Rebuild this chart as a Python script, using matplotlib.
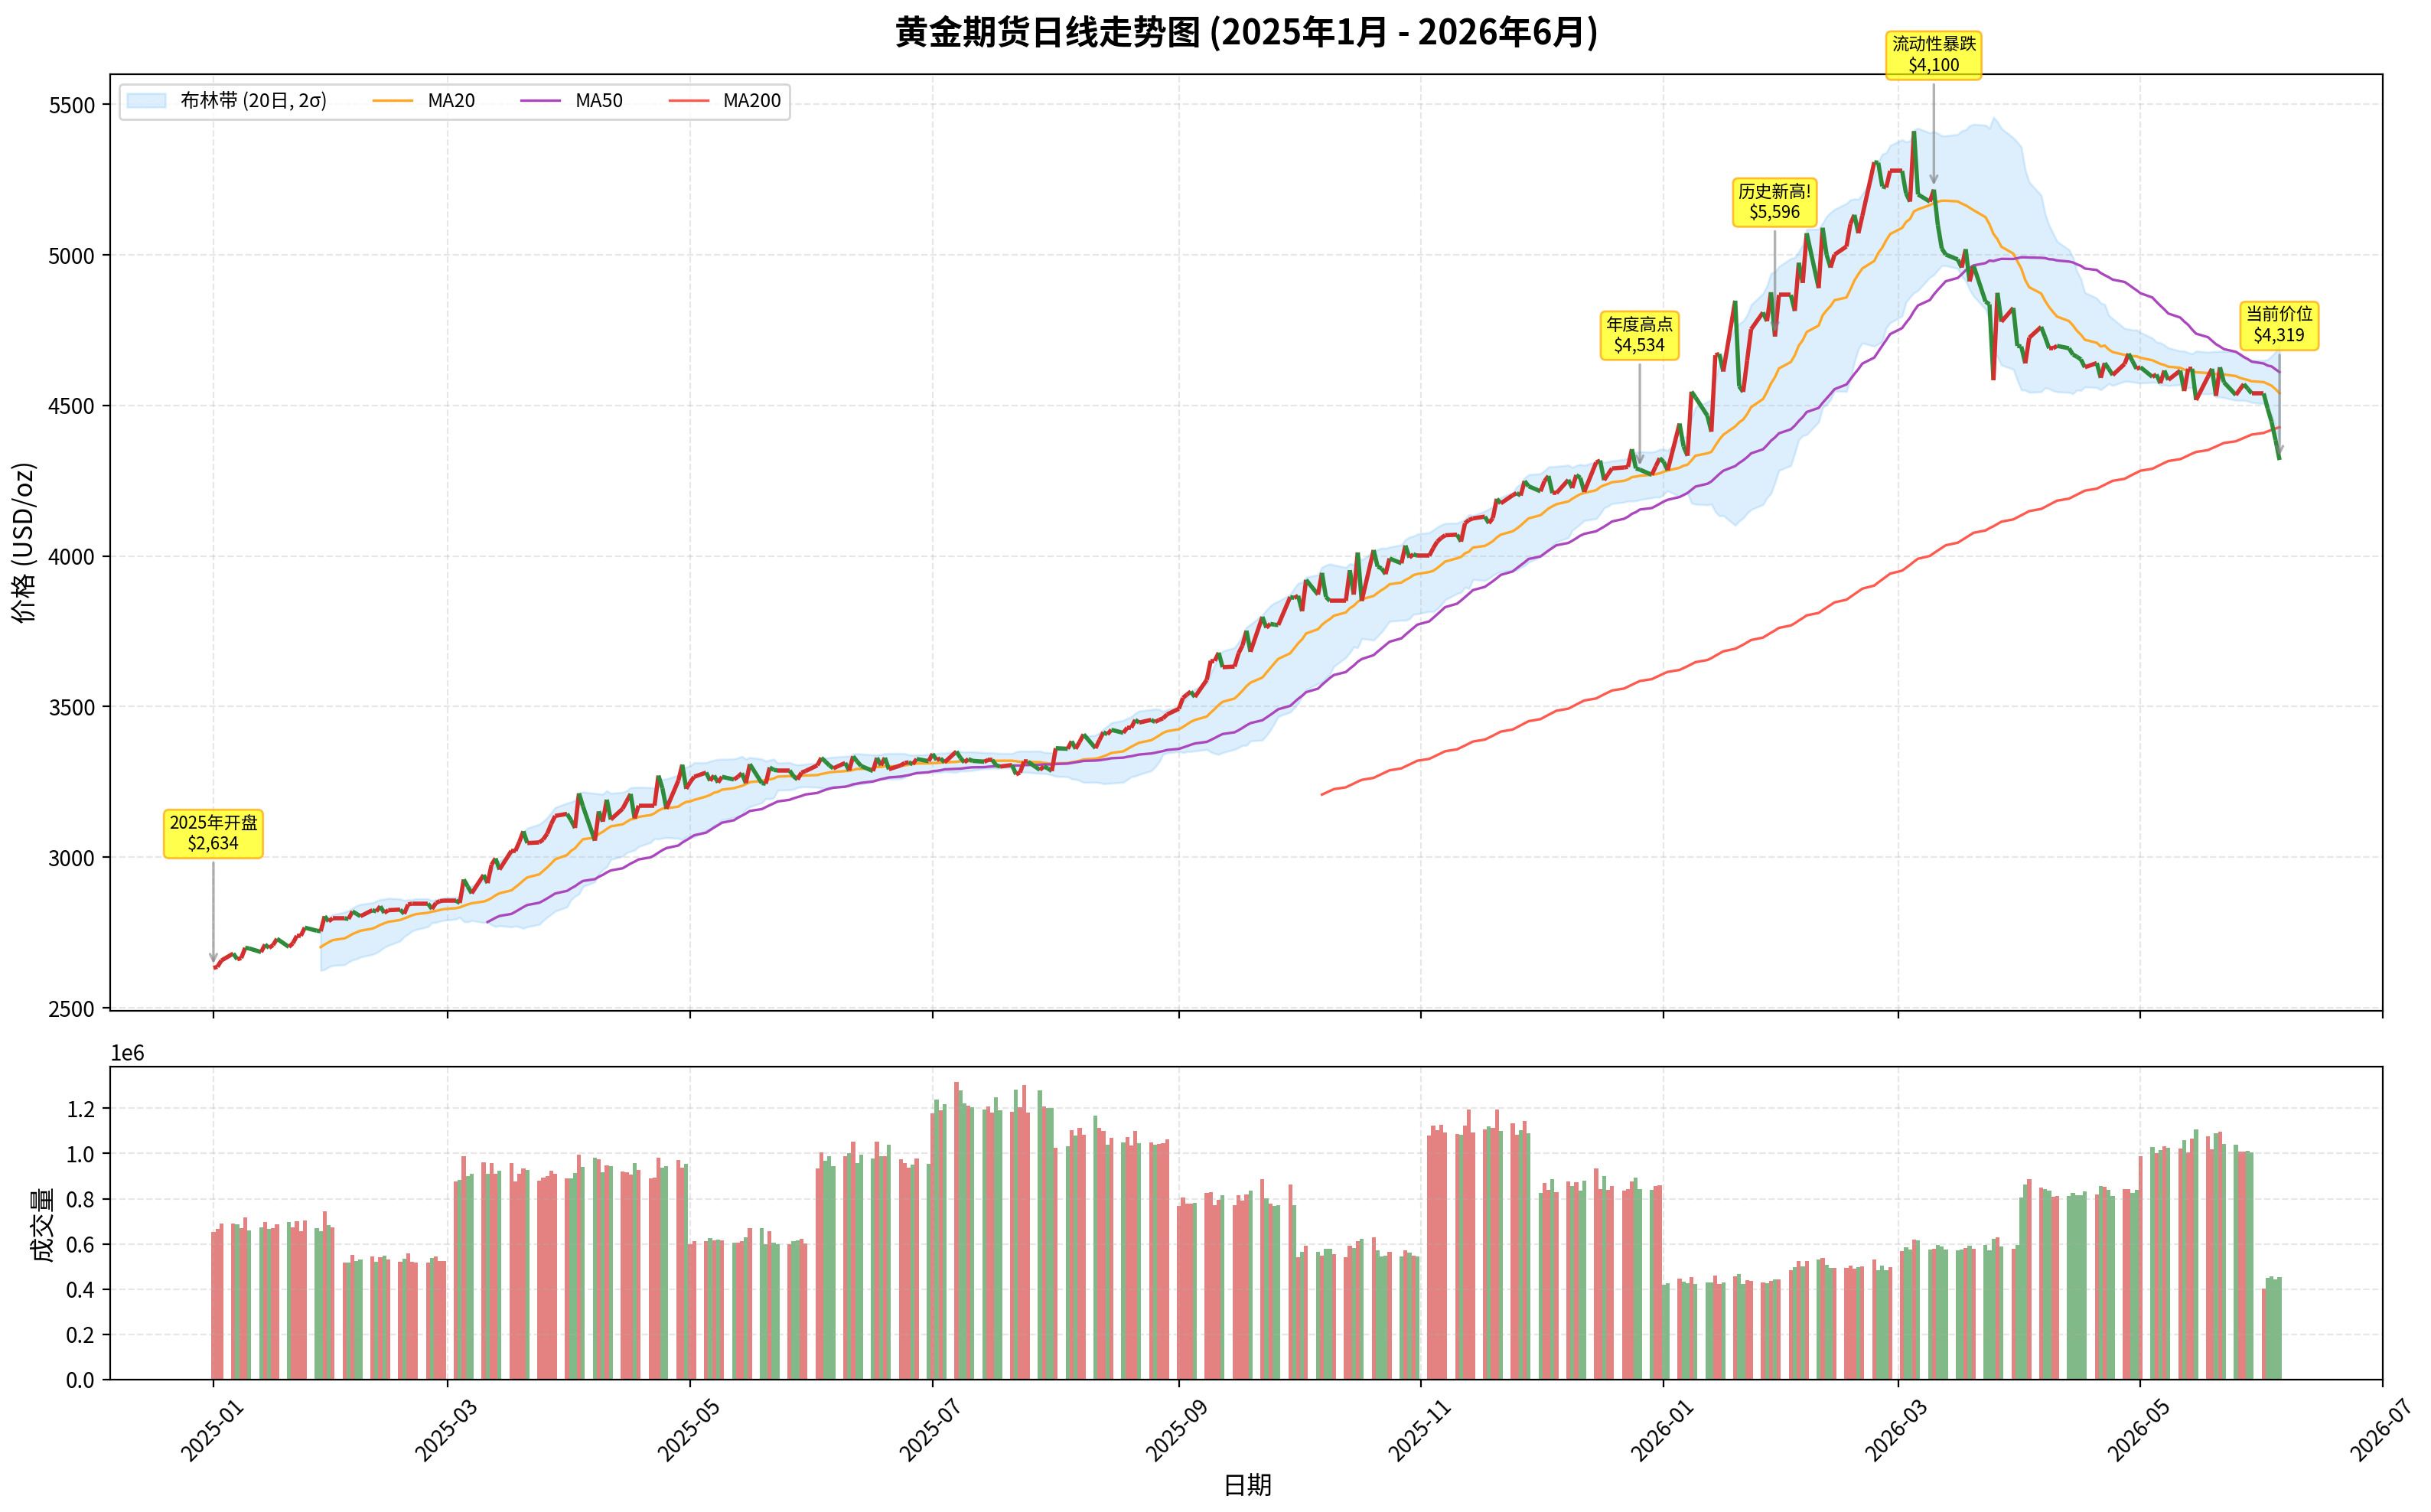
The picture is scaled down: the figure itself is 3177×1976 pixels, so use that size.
import numpy as np
import pandas as pd
import matplotlib
matplotlib.use("Agg")
import matplotlib.pyplot as plt
import matplotlib.dates as mdates
from matplotlib.collections import LineCollection

plt.rcParams['font.family'] = ['Noto Sans CJK SC', 'DejaVu Sans']
plt.rcParams['axes.unicode_minus'] = False

# daily closes (USD/oz), one list per month, business days only
close_2025_01 = [2632, 2636, 2657, 2680, 2661, 2665, 2699, 2697, 2685, 2710, 2699, 2708, 2729,
                 2702, 2714, 2739, 2739, 2766, 2756, 2754, 2804, 2787, 2797]
close_2025_02 = [2797, 2795, 2820, 2812, 2804, 2824, 2820, 2837, 2815, 2824,
                 2826, 2812, 2843, 2846, 2846, 2846, 2828, 2848, 2854, 2856]
close_2025_03 = [2856, 2848, 2926, 2903, 2880, 2941, 2914, 2975, 2996, 2959, 3021,
                 3021, 3051, 3086, 3047, 3049, 3059, 3078, 3110, 3137, 3144]
close_2025_04 = [3123, 3097, 3212, 3169, 3055, 3152, 3118, 3191, 3125, 3161, 3186,
                 3210, 3129, 3171, 3171, 3171, 3271, 3229, 3161, 3254, 3307, 3227]
close_2025_05 = [3250, 3267, 3281, 3254, 3271, 3248, 3267, 3258, 3267, 3279, 3246,
                 3309, 3246, 3244, 3298, 3290, 3288, 3288, 3269, 3258, 3281, 3286]
close_2025_06 = [3305, 3330, 3318, 3305, 3295, 3313, 3288, 3335, 3318, 3303, 3286,
                 3330, 3305, 3330, 3292, 3305, 3313, 3315, 3309, 3326, 3319]
close_2025_07 = [3343, 3323, 3328, 3315, 3351, 3330, 3315, 3326, 3320, 3317, 3323, 3323,
                 3305, 3301, 3306, 3275, 3281, 3317, 3317, 3290, 3301, 3295, 3286]
close_2025_08 = [3362, 3360, 3385, 3360, 3383, 3408, 3362, 3389, 3415, 3408, 3423,
                 3413, 3430, 3430, 3456, 3447, 3456, 3449, 3456, 3461, 3474]
close_2025_09 = [3493, 3529, 3540, 3550, 3532, 3589, 3652, 3652, 3679, 3631, 3633,
                 3677, 3703, 3752, 3682, 3798, 3762, 3775, 3772, 3771, 3864, 3861]
close_2025_10 = [3868, 3817, 3921, 3872, 3944, 3864, 3851, 3851, 3851, 3953, 3872, 4012,
                 3851, 4020, 3965, 3959, 3940, 3992, 3976, 4035, 3995, 4006, 4001]
close_2025_11 = [4001, 4026, 4048, 4060, 4069, 4071, 4048, 4109, 4120, 4125,
                 4131, 4109, 4126, 4190, 4175, 4202, 4209, 4201, 4249, 4232]
close_2025_12 = [4215, 4249, 4266, 4209, 4209, 4253, 4226, 4269, 4260, 4213, 4311, 4317,
                 4252, 4272, 4291, 4294, 4296, 4355, 4291, 4287, 4270, 4298, 4325]
close_2026_01 = [4313, 4285, 4440, 4364, 4333, 4546, 4527, 4466, 4413, 4667, 4671,
                 4613, 4848, 4564, 4545, 4649, 4753, 4809, 4780, 4876, 4729, 4867]
close_2026_02 = [4867, 4814, 4974, 4907, 5072, 4890, 5090, 5001, 4958, 5001,
                 5028, 5103, 5133, 5072, 5130, 5308, 5306, 5228, 5224, 5279]
close_2026_03 = [5279, 5204, 5177, 5411, 5201, 5177, 5217, 5099, 5021, 5001, 4985,
                 4958, 5019, 4912, 4964, 4845, 4836, 4584, 4874, 4778, 4824, 4698]
close_2026_04 = [4696, 4640, 4725, 4761, 4727, 4690, 4690, 4698, 4690, 4669, 4662,
                 4653, 4627, 4641, 4592, 4641, 4622, 4601, 4638, 4672, 4647, 4622]
close_2026_05 = [4627, 4595, 4603, 4574, 4616, 4585, 4616, 4548, 4622, 4622, 4518,
                 4596, 4622, 4532, 4627, 4577, 4535, 4553, 4571, 4556, 4540]
close_2026_06 = [4540, 4490, 4445, 4385, 4319]

# daily volume (millions of contracts), same days
vol_2025_01 = [0.652, 0.666, 0.690, 0.690, 0.686, 0.669, 0.716, 0.660, 0.672, 0.696, 0.667, 0.670,
               0.686, 0.696, 0.672, 0.700, 0.656, 0.703, 0.669, 0.656, 0.743, 0.684, 0.672]
vol_2025_02 = [0.517, 0.517, 0.550, 0.524, 0.531, 0.543, 0.521, 0.541, 0.547, 0.530,
               0.520, 0.534, 0.557, 0.521, 0.517, 0.517, 0.538, 0.543, 0.524, 0.524]
vol_2025_03 = [0.877, 0.884, 0.988, 0.900, 0.911, 0.960, 0.911, 0.957, 0.911, 0.924, 0.957,
               0.877, 0.911, 0.933, 0.928, 0.880, 0.893, 0.900, 0.924, 0.911, 0.890]
vol_2025_04 = [0.890, 0.914, 0.994, 0.941, 0.981, 0.974, 0.918, 0.948, 0.945, 0.921, 0.918,
               0.907, 0.957, 0.928, 0.890, 0.894, 0.981, 0.937, 0.945, 0.971, 0.937, 0.954]
vol_2025_05 = [0.600, 0.611, 0.611, 0.626, 0.616, 0.618, 0.615, 0.606, 0.606, 0.611, 0.629,
               0.670, 0.670, 0.600, 0.656, 0.606, 0.600, 0.600, 0.611, 0.616, 0.621, 0.601]
vol_2025_06 = [0.934, 1.006, 0.968, 0.988, 0.945, 0.989, 1.002, 1.053, 0.958, 0.995, 0.978,
               1.053, 0.989, 0.989, 1.040, 0.975, 0.958, 0.938, 0.951, 0.978, 0.955]
vol_2025_07 = [1.179, 1.240, 1.192, 1.219, 1.318, 1.280, 1.223, 1.212, 1.206, 1.195, 1.209, 1.182,
               1.250, 1.192, 1.185, 1.284, 1.206, 1.304, 1.182, 1.280, 1.209, 1.202, 1.202]
vol_2025_08 = [1.026, 1.033, 1.104, 1.080, 1.114, 1.083, 1.168, 1.114, 1.100, 1.040, 1.070,
               1.050, 1.073, 1.036, 1.100, 1.046, 1.050, 1.040, 1.043, 1.046, 1.063]
vol_2025_09 = [0.768, 0.806, 0.779, 0.779, 0.782, 0.826, 0.829, 0.772, 0.795, 0.816, 0.772,
               0.816, 0.792, 0.819, 0.836, 0.887, 0.802, 0.779, 0.768, 0.772, 0.863, 0.772]
vol_2025_10 = [0.541, 0.565, 0.592, 0.565, 0.548, 0.578, 0.578, 0.555, 0.541, 0.592, 0.582, 0.612,
               0.623, 0.629, 0.572, 0.545, 0.548, 0.565, 0.545, 0.572, 0.562, 0.548, 0.545]
vol_2025_11 = [1.080, 1.124, 1.104, 1.128, 1.094, 1.087, 1.084, 1.124, 1.195, 1.094,
               1.107, 1.121, 1.114, 1.195, 1.100, 1.134, 1.084, 1.104, 1.145, 1.090]
vol_2025_12 = [0.826, 0.870, 0.840, 0.887, 0.829, 0.877, 0.857, 0.873, 0.836, 0.880, 0.934, 0.843,
               0.900, 0.840, 0.857, 0.836, 0.843, 0.877, 0.894, 0.843, 0.840, 0.857, 0.860]
vol_2026_01 = [0.419, 0.426, 0.446, 0.433, 0.426, 0.453, 0.423, 0.429, 0.429, 0.460, 0.423,
               0.429, 0.456, 0.467, 0.423, 0.440, 0.436, 0.429, 0.426, 0.436, 0.443, 0.443]
vol_2026_02 = [0.484, 0.497, 0.524, 0.500, 0.524, 0.531, 0.538, 0.507, 0.494, 0.494,
               0.494, 0.504, 0.490, 0.497, 0.500, 0.531, 0.484, 0.504, 0.484, 0.497]
vol_2026_03 = [0.568, 0.585, 0.576, 0.619, 0.616, 0.575, 0.578, 0.595, 0.589, 0.575, 0.572,
               0.575, 0.582, 0.592, 0.578, 0.595, 0.572, 0.623, 0.629, 0.589, 0.578, 0.595]
vol_2026_04 = [0.806, 0.863, 0.887, 0.850, 0.843, 0.836, 0.809, 0.812, 0.812, 0.826, 0.816,
               0.816, 0.833, 0.819, 0.857, 0.853, 0.840, 0.812, 0.843, 0.843, 0.826, 0.840]
vol_2026_05 = [0.989, 1.029, 1.000, 1.016, 1.033, 1.026, 1.023, 1.060, 1.006, 1.067, 1.107,
               1.077, 1.019, 1.090, 1.097, 1.043, 1.040, 1.009, 1.009, 1.013, 1.006]
vol_2026_06 = [0.402, 0.450, 0.456, 0.443, 0.453]

close = (close_2025_01 + close_2025_02 + close_2025_03 + close_2025_04 + close_2025_05 +
         close_2025_06 + close_2025_07 + close_2025_08 + close_2025_09 + close_2025_10 +
         close_2025_11 + close_2025_12 + close_2026_01 + close_2026_02 + close_2026_03 +
         close_2026_04 + close_2026_05 + close_2026_06)
volume = (vol_2025_01 + vol_2025_02 + vol_2025_03 + vol_2025_04 + vol_2025_05 +
          vol_2025_06 + vol_2025_07 + vol_2025_08 + vol_2025_09 + vol_2025_10 +
          vol_2025_11 + vol_2025_12 + vol_2026_01 + vol_2026_02 + vol_2026_03 +
          vol_2026_04 + vol_2026_05 + vol_2026_06)

# annotated points
note_dates = ['2025-01-01', '2025-12-26', '2026-01-29', '2026-03-10', '2026-06-05']
note_texts = ['2025年开盘\n$2,634', '年度高点\n$4,534', '历史新高!\n$5,596',
              '流动性暴跌\n$4,100', '当前价位\n$4,319']

dates = pd.bdate_range('2025-01-01', periods=len(close))
price = pd.Series(close, index=dates, dtype=float)
vol = pd.Series(volume, index=dates) * 1e6

ma20 = price.rolling(20).mean()
ma50 = price.rolling(50).mean()
ma200 = price.rolling(200).mean()
std20 = price.rolling(20).std()
bb_up = ma20 + 2 * std20
bb_lo = ma20 - 2 * std20

up = price.diff().fillna(0) >= 0
red, green = '#D32F2F', '#2E8B3A'

fig = plt.figure(figsize=(3177 / 200, 1976 / 200), dpi=200)
ax1 = fig.add_axes([0.0453, 0.3315, 0.9349, 0.6194])
ax2 = fig.add_axes([0.0453, 0.0876, 0.9349, 0.2069], sharex=ax1)

# price panel
ax1.fill_between(dates, bb_lo, bb_up, color='#2196F3', alpha=0.15, label='布林带 (20日, 2σ)')
ax1.plot(dates, ma20, color='#FFA726', lw=1.2, label='MA20')
ax1.plot(dates, ma50, color='#AB47BC', lw=1.2, label='MA50')
ax1.plot(dates, ma200, color='#FF5A4F', lw=1.2, label='MA200')

x = mdates.date2num(dates)
pts = np.column_stack([x, price.values])
segs = np.stack([pts[:-1], pts[1:]], axis=1)
seg_colors = [red if u else green for u in up.values[1:]]
ax1.add_collection(LineCollection(segs, colors=seg_colors, linewidths=2.0, zorder=5))

for d, t in zip(note_dates, note_texts):
    d = pd.Timestamp(d)
    p = price[d]
    ax1.annotate(t, xy=(d, p), xytext=(d, p + 445), ha='center', va='center', fontsize=8,
                 bbox=dict(boxstyle='round,pad=0.3', fc='yellow', ec='orange', alpha=0.7),
                 arrowprops=dict(arrowstyle='->', color='gray', alpha=0.6, lw=1.2), zorder=6)

ax1.set_ylim(2490, 5600)
ax1.set_ylabel('价格 (USD/oz)', fontsize=12)
ax1.set_title('黄金期货日线走势图 (2025年1月 - 2026年6月)', fontsize=16, fontweight='bold', pad=14)
ax1.grid(True, linestyle='--', alpha=0.3)
ax1.legend(loc='upper left', ncol=4, fontsize=9, columnspacing=2.4)
ax1.tick_params(labelbottom=False)

# volume panel
bar_colors = [red if u else green for u in up.values]
ax2.bar(dates, vol, width=1.0, color=bar_colors, alpha=0.6)
ax2.set_ylabel('成交量', fontsize=12)
ax2.set_xlabel('日期', fontsize=12)
ax2.grid(True, linestyle='--', alpha=0.3)

ax2.xaxis.set_major_locator(mdates.MonthLocator(bymonth=[1, 3, 5, 7, 9, 11]))
ax2.xaxis.set_major_formatter(mdates.DateFormatter('%Y-%m'))
ax2.set_xlim(pd.Timestamp('2024-12-06'), pd.Timestamp('2026-07-01'))
plt.setp(ax2.get_xticklabels(), rotation=45)

fig.savefig('out.png', dpi=200)
